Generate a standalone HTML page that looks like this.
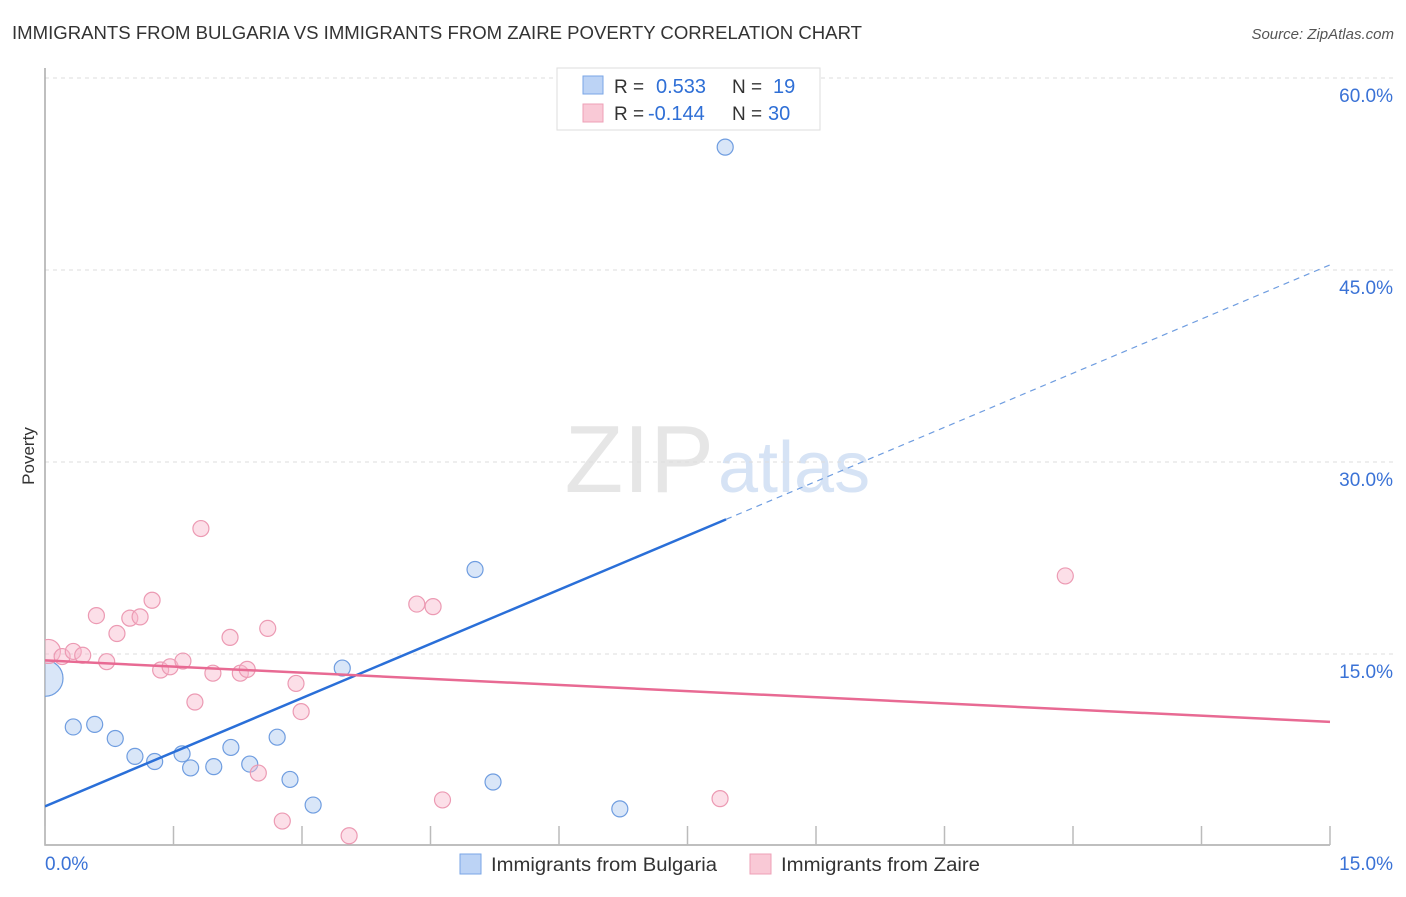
<!DOCTYPE html>
<html><head><meta charset="utf-8"><style>
body{margin:0;background:#fff;font-family:"Liberation Sans",sans-serif;}
svg text{font-family:"Liberation Sans",sans-serif;}
</style></head><body>
<svg id="chart" width="1406" height="892" xmlns="http://www.w3.org/2000/svg">
<defs><clipPath id="plotclip"><rect x="45" y="60" width="1360" height="786"/></clipPath></defs>
<text x="12" y="39" font-size="18" fill="#333" textLength="850" lengthAdjust="spacingAndGlyphs">IMMIGRANTS FROM BULGARIA VS IMMIGRANTS FROM ZAIRE POVERTY CORRELATION CHART</text>
<text x="1394" y="39" font-size="15" font-style="italic" fill="#555" text-anchor="end">Source: ZipAtlas.com</text>
<text x="714" y="492" font-size="96" font-family="Liberation Serif" fill="#e6e6e6" text-anchor="end">ZIP</text>
<text x="718" y="492" font-size="72" fill="#d6e3f5">atlas</text>
<g id="grid"></g>
<g id="axes"></g>
<g id="marks" clip-path="url(#plotclip)"></g>
<text transform="translate(34,456) rotate(-90)" font-size="17" fill="#333" text-anchor="middle">Poverty</text>
<g>
<rect x="557" y="68" width="263" height="62" fill="#fff" stroke="#ddd"/>
<rect x="583" y="76" width="20" height="18" fill="#bcd3f5" stroke="#7aa6e6"/>
<text x="614" y="93" font-size="19" fill="#333">R =</text>
<text x="656" y="93" font-size="20" fill="#2f6fd6">0.533</text>
<text x="732" y="93" font-size="19" fill="#333">N =</text>
<text x="773" y="93" font-size="20" fill="#2f6fd6">19</text>
<rect x="583" y="104" width="20" height="18" fill="#f9c9d6" stroke="#eea0b7"/>
<text x="614" y="120" font-size="19" fill="#333">R =</text>
<text x="648" y="120" font-size="20" fill="#2f6fd6">-0.144</text>
<text x="732" y="120" font-size="19" fill="#333">N =</text>
<text x="768" y="120" font-size="20" fill="#2f6fd6">30</text>
</g>
<g>
<rect x="460" y="854" width="21" height="20" fill="#bcd3f5" stroke="#7aa6e6"/>
<text x="491" y="871" font-size="19" fill="#333" textLength="226" lengthAdjust="spacingAndGlyphs">Immigrants from Bulgaria</text>
<rect x="750" y="854" width="21" height="20" fill="#f9c9d6" stroke="#eea0b7"/>
<text x="781" y="871" font-size="19" fill="#333" textLength="199" lengthAdjust="spacingAndGlyphs">Immigrants from Zaire</text>
</g>
</svg>
<script>
const yTicks=[15,30,45,60];
const yTickLabels=["15.0%","30.0%","45.0%","60.0%"];
const xTickVals=[0,1.5,3,4.5,6,7.5,9,10.5,12,13.5,15];
const blueX=[7.94,5.02,3.47,0,0.33,0.58,0.82,1.05,1.28,1.60,1.70,1.97,2.17,2.39,2.71,2.86,3.13,5.23,6.71];
const blueY=[54.6,21.6,13.9,13.1,9.3,9.5,8.4,7.0,6.6,7.2,6.1,6.2,7.7,6.4,8.5,5.2,3.2,5.0,2.9];
const blueR=[8,8,8,18,8,8,8,8,8,8,8,8,8,8,8,8,8,8,8];
const pinkX=[0.04,0.20,0.33,0.44,0.60,0.72,0.84,0.99,1.11,1.25,1.35,1.46,1.61,1.75,1.82,1.96,2.16,2.28,2.36,2.49,2.60,2.77,2.93,2.99,3.55,4.34,4.53,4.64,7.88,11.91];
const pinkY=[15.2,14.8,15.2,14.9,18.0,14.4,16.6,17.8,17.9,19.2,13.75,14.0,14.45,11.25,24.8,13.5,16.3,13.5,13.8,5.7,17.0,1.95,12.7,10.5,0.8,18.9,18.7,3.6,3.7,21.1];
const pinkR=[12,8,8,8,8,8,8,8,8,8,8,8,8,8,8,8,8,8,8,8,8,8,8,8,8,8,8,8,8,8];
const blueTrend=[3.1,45.4];
const pinkTrend=[14.5,9.7];
const NS="http://www.w3.org/2000/svg";
const X=v=>45+v/15*1285;
const Y=v=>846-v/15*192;
function mk(tag,attrs,parent){const e=document.createElementNS(NS,tag);for(const k in attrs)e.setAttribute(k,attrs[k]);parent.appendChild(e);return e;}
const grid=document.getElementById('grid'),axes=document.getElementById('axes'),marks=document.getElementById('marks');
yTicks.forEach((t,i)=>{
 const l=mk('line',{x1:45,x2:1393,y1:Y(t),y2:Y(t),stroke:'#ddd','stroke-dasharray':'4,4'},grid);
 
 
 const tx=mk('text',{x:1393,y:Y(t)+24,'font-size':19,fill:'#3a72d6','text-anchor':'end'},axes);
 tx.textContent=yTickLabels[i];
 
 
});
const ax=mk('path',{d:'M45,68 V845 H1330',fill:'none',stroke:'#aaa','stroke-width':1.5},axes);


xTickVals.forEach(t=>{
 const l=mk('line',{x1:X(t),x2:X(t),y1:826,y2:845,stroke:'#bbb','stroke-width':1.5},axes);
 
 
});
const x0=mk('text',{x:45,y:870,'font-size':19,fill:'#3a72d6'},axes);x0.textContent='0.0%';


const x1=mk('text',{x:1393,y:870,'font-size':19,fill:'#3a72d6','text-anchor':'end'},axes);x1.textContent='15.0%';


blueX.forEach((v,i)=>{
 const c=mk('circle',{cx:X(v),cy:Y(blueY[i]),r:blueR[i],fill:'rgba(170,200,240,0.45)',stroke:'#6f9de0','stroke-width':1.2},marks);
 
 
});
pinkX.forEach((v,i)=>{
 const c=mk('circle',{cx:X(v),cy:Y(pinkY[i]),r:pinkR[i],fill:'rgba(248,185,204,0.45)',stroke:'#ec9ab3','stroke-width':1.2},marks);
 
 
});
const bs=(blueTrend[1]-blueTrend[0])/15, xs=7.95;
const b1=mk('line',{x1:X(0),y1:Y(blueTrend[0]),x2:X(xs),y2:Y(blueTrend[0]+bs*xs),stroke:'#2a6fd8','stroke-width':2.5},marks);


const b2=mk('line',{x1:X(xs),y1:Y(blueTrend[0]+bs*xs),x2:X(15),y2:Y(blueTrend[1]),stroke:'#6f9de0','stroke-width':1.2,'stroke-dasharray':'6,5'},marks);


const p1=mk('line',{x1:X(0),y1:Y(pinkTrend[0]),x2:X(15),y2:Y(pinkTrend[1]),stroke:'#e86a93','stroke-width':2.5},marks);


</script>
</body></html>
